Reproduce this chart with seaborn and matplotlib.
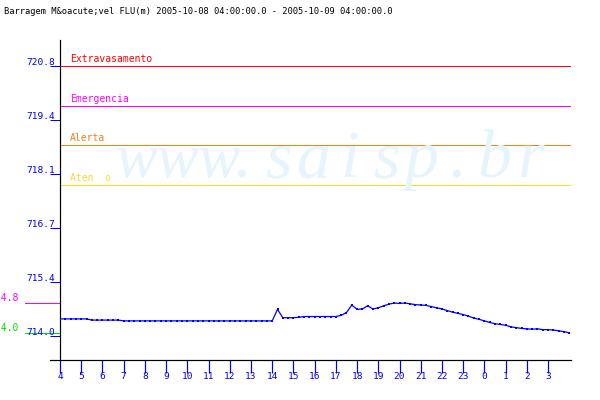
import numpy as np
import pandas as pd
import matplotlib
matplotlib.use('Agg')
import matplotlib.pyplot as plt
import matplotlib.transforms as mtransforms
import seaborn as sns

title = 'Barragem M&oacute;vel FLU(m) 2005-10-08 04:00:00.0 - 2005-10-09 04:00:00.0'

# hour labels on the x axis (one per hour, starting at 04:00)
hour_labels = ['4', '5', '6', '7', '8', '9', '10', '11', '12', '13', '14', '15',
               '16', '17', '18', '19', '20', '21', '22', '23', '0', '1', '2', '3']

# level readings every 15 minutes (m)
level = [714.43, 714.43, 714.43, 714.43, 714.43, 714.43,
         714.40, 714.40, 714.40, 714.40, 714.40, 714.40,
         714.38, 714.38, 714.38, 714.38, 714.38, 714.38, 714.38, 714.38,
         714.38, 714.38, 714.38, 714.38, 714.38, 714.38, 714.38, 714.38,
         714.38, 714.38, 714.38, 714.38, 714.38, 714.38, 714.38, 714.38,
         714.38, 714.38, 714.38, 714.38, 714.38,
         714.67, 714.46, 714.46, 714.46, 714.47,
         714.49, 714.49, 714.49, 714.49, 714.49, 714.49, 714.49,
         714.52, 714.59, 714.78, 714.67, 714.68, 714.76, 714.68, 714.71,
         714.76, 714.80, 714.83, 714.82, 714.83, 714.81, 714.79, 714.78,
         714.77, 714.74, 714.71, 714.68, 714.64, 714.60, 714.57, 714.54,
         714.50, 714.45, 714.42, 714.38, 714.34, 714.31, 714.29, 714.27,
         714.23, 714.21, 714.19, 714.18, 714.17, 714.18, 714.16, 714.16,
         714.15, 714.13, 714.11, 714.08]

ytick_vals = [714.0, 715.36, 716.72, 718.08, 719.44, 720.8]
ytick_labels = ['714.0', '715.4', '716.7', '718.1', '719.4', '720.8']

limit_names = ['Extravasamento', 'Emergencia', 'Alerta', 'Aten  o']
limit_values = [720.8, 719.8, 718.8, 717.8]
limit_colors = ['#ff0000', '#ff00ff', '#f08020', '#f8d830']

side_labels = ['714.8', '714.0']
side_values = [714.83, 714.08]
side_colors = ['#ff00ff', '#00e000']

watermark_head = 'www.'
watermark_tail = 'saisp.br'

df = pd.DataFrame({'t': np.arange(len(level)) * 0.25, 'nivel': level})

plt.rcParams['font.family'] = ['DejaVu Sans Mono']
blue = '#0000ff'
px = 0.72  # one pixel in points at dpi 100

fig = plt.figure(figsize=(6, 4), dpi=100)
ax = fig.add_axes([60 / 600, 40 / 400, 511 / 600, 320 / 400])
ax.set_xlim(0, 511 / 21.22)
ax.set_ylim(713.395, 721.455)

# watermark, serif italic letters spread out
wm = dict(family='Liberation Serif', style='italic', color='#e6f5fc', zorder=0,
          va='baseline')
base_y = (400 - 177) / 400
fig.text(115 / 600, base_y, watermark_head, ha='left', fontsize=45, **wm)
for i, ch in enumerate(watermark_tail):
    fig.text((278 + 36 * i) / 600, base_y, ch, ha='center', fontsize=49, **wm)

# alarm levels
for name, val, col in zip(limit_names, limit_values, limit_colors):
    ax.axhline(val, color=col, linewidth=px, zorder=2)
    off = mtransforms.ScaledTranslation(0, 4 / 100, fig.dpi_scale_trans)
    ax.text(10 / 511, val, name, color=col, fontsize=7, va='baseline', ha='left',
            transform=ax.get_yaxis_transform() + off)

# marks left of the axis
ytrans = ax.get_yaxis_transform()
for lab, val, col in zip(side_labels, side_values, side_colors):
    ax.plot([-35 / 511, 0], [val, val], color=col, linewidth=px, transform=ytrans,
            clip_on=False)
    off = mtransforms.ScaledTranslation(-41 / 100, 2 / 100, fig.dpi_scale_trans)
    ax.text(0, val, lab, color=col, fontsize=7, ha='right', va='baseline',
            transform=ytrans + off, clip_on=False)

sns.lineplot(data=df, x='t', y='nivel', color=blue, linewidth=0.9, marker='s',
             markersize=1.9, markeredgewidth=0, ax=ax, zorder=3)

# axes look
for s in ['top', 'right', 'bottom']:
    ax.spines[s].set_visible(False)
ax.spines['left'].set_color('black')
ax.spines['left'].set_linewidth(1.2 * px)
ax.plot([-10 / 511, 1], [0, 0], color='black', linewidth=1.2 * px,
        transform=ax.transAxes, clip_on=False)

ax.set_xticks(np.arange(len(hour_labels)))
ax.set_xticklabels(hour_labels)
ax.tick_params(axis='x', colors=blue, length=13 * px, width=1.2 * px, pad=-1,
               labelsize=6.8)

ax.set_yticks(ytick_vals)
ax.set_yticklabels([])
ax.tick_params(axis='y', colors=blue, length=10 * px, width=px)
for val, lab in zip(ytick_vals, ytick_labels):
    off = mtransforms.ScaledTranslation(-5 / 100, 1 / 100, fig.dpi_scale_trans)
    ax.text(0, val, lab, color=blue, fontsize=6.8, ha='right', va='baseline',
            transform=ytrans + off, clip_on=False)

ax.set_xlabel('')
ax.set_ylabel('')
ax.grid(False)

fig.text(4 / 600, (400 - 14) / 400, title, fontsize=6.3, color='#000000',
         ha='left', va='baseline')

fig.savefig('out.png', dpi=100)
